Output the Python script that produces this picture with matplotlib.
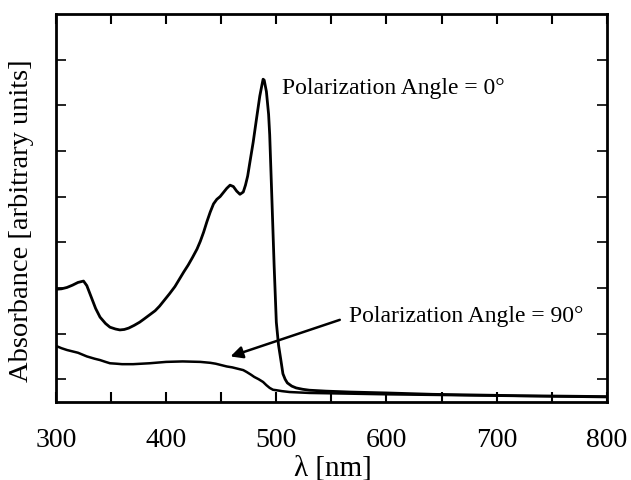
import matplotlib.pyplot as plt
import numpy as np

plt.rcParams['font.family'] = ['Liberation Serif', 'DejaVu Serif']

# polarization angle = 0 deg
wl_0 = [300, 305, 310, 315, 320, 325, 328, 332, 336, 340, 345, 349, 354, 358, 362, 366, 371, 376, 380, 385,
        390, 394, 398, 403, 408, 412, 416, 420, 424, 428, 431, 434, 437, 440, 443, 446, 449, 452, 455, 458,
        461, 464, 467, 470, 472, 474, 476, 479, 482, 485, 487, 488, 489, 491, 493, 494, 496, 498, 500, 502,
        504, 506, 508, 510, 514, 518, 524, 530, 545, 567, 600, 642, 720, 800]
abs_0 = [2.47, 2.48, 2.51, 2.56, 2.62, 2.65, 2.55, 2.3, 2.05, 1.86, 1.72, 1.64, 1.6, 1.58, 1.59, 1.62, 1.68, 1.75, 1.82, 1.91,
         2.0, 2.1, 2.22, 2.37, 2.53, 2.69, 2.85, 3.0, 3.17, 3.35, 3.52, 3.72, 3.95, 4.16, 4.34, 4.44, 4.5, 4.59, 4.68, 4.75,
         4.72, 4.62, 4.55, 4.6, 4.75, 4.95, 5.25, 5.69, 6.2, 6.7, 6.95, 7.07, 7.05, 6.8, 6.3, 5.85, 4.44, 3.0, 1.75, 1.25,
         0.94, 0.62, 0.5, 0.42, 0.35, 0.31, 0.28, 0.26, 0.24, 0.22, 0.2, 0.17, 0.14, 0.12]

# polarization angle = 90 deg
wl_90 = [300, 305, 310, 315, 320, 328, 335, 340, 345, 349, 355, 360, 370, 385, 400, 415, 431, 440, 445, 450,
         455, 460, 465, 470, 473, 477, 480, 484, 488, 491, 494, 497, 500, 505, 512, 530, 600, 700, 800]
abs_90 = [1.23, 1.18, 1.14, 1.11, 1.08, 1.0, 0.95, 0.92, 0.88, 0.85, 0.84, 0.83, 0.83, 0.85, 0.88, 0.89, 0.88, 0.86, 0.84, 0.81,
          0.78, 0.76, 0.73, 0.7, 0.66, 0.6, 0.55, 0.5, 0.44, 0.37, 0.31, 0.27, 0.26, 0.24, 0.22, 0.2, 0.17, 0.14, 0.11]

fig = plt.figure(figsize=(6.31, 4.81), dpi=100)
ax = fig.add_axes([0.0887, 0.162, 0.873, 0.807])

ax.plot(wl_0, abs_0, color='black', lw=2.0)
ax.plot(wl_90, abs_90, color='black', lw=1.8)

ax.set_xlim(300, 800)
ax.set_ylim(0, 8.5)
ax.set_xticks(np.arange(300, 801, 100))
ax.set_xticks(np.arange(350, 800, 100), minor=True)
ax.set_yticks(np.arange(0.5, 8, 1.0))
ax.set_yticklabels([])

ax.tick_params(axis='x', which='both', direction='in', top=True, length=7, width=1.5,
               labelsize=20, pad=18)
ax.tick_params(axis='y', direction='in', right=True, length=7, width=1.2)
for s in ax.spines.values():
    s.set_linewidth(2)

fig.text(333 / 631, 1 - 456 / 481, 'λ [nm]', fontsize=21, ha='center', va='top')
fig.text(22 / 631, 1 - 221 / 481, 'Absorbance [arbitrary units]', rotation=90,
         fontsize=20.5, ha='center', va='center')

ax.text(505, 6.89, 'Polarization Angle = 0°', fontsize=17, va='center', ha='left')
ax.text(566, 1.90, 'Polarization Angle = 90°', fontsize=17, va='center', ha='left')
ax.annotate('', xy=(456, 0.98), xytext=(560, 1.82),
            arrowprops=dict(arrowstyle='-|>', color='black', lw=1.8, mutation_scale=18))

fig.savefig('out.png', dpi=100)
